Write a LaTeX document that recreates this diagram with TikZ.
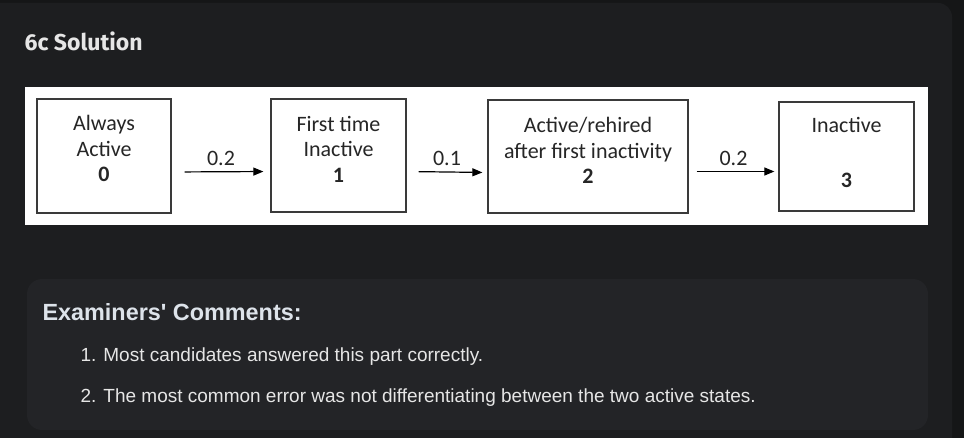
\documentclass[tikz,border=0pt]{standalone}
\usepackage{fontspec}
\setmainfont{Liberation Sans}
\newfontfamily\notefont{Liberation Sans}
\newfontfamily\boxfont{Carlito}
\newfontfamily\headfont{Fira Sans}
\usetikzlibrary{arrows.meta}
\definecolor{pagebg}{HTML}{151617}
\definecolor{cardbg}{HTML}{1D1E20}
\definecolor{notebg}{HTML}{232427}
\definecolor{lighttext}{HTML}{E6E6E6}
\definecolor{headtext}{HTML}{DDE3EA}
\definecolor{boxline}{HTML}{3A3A3A}
\tikzset{
  statebox/.style={draw=boxline,line width=1.3pt,fill=white,inner sep=0pt},
  boxtext/.style={align=center,text=black!85,font={\boxfont\fontsize{22}{25.5}\selectfont}},
  trans/.style={-{Triangle[length=10pt,width=8pt]},line width=1.2pt,black},
  translabel/.style={above=2pt,text=black!85,font={\boxfont\fontsize{22}{24}\selectfont}}
}
\begin{document}
\begin{tikzpicture}[x=1pt,y=-1pt]
    \useasboundingbox (0,0) rectangle (964,438);
    \fill[pagebg] (0,0) rectangle (964,438);
    \fill[cardbg,rounded corners=14pt] (-20,3) rectangle (952,460);
    \node[anchor=west,text=lighttext,font={\headfont\bfseries\fontsize{23}{27}\selectfont}] (title) at (21,41) {6c Solution};

    \fill[white] (25,87) rectangle (928,225);

    \node[statebox,minimum width=134pt,minimum height=114pt] (s0) at (104,156) {};
    \node[statebox,minimum width=135pt,minimum height=113pt] (s1) at (338.5,155.5) {};
    \node[statebox,minimum width=200pt,minimum height=113pt] (s2) at (588,156.5) {};
    \node[statebox,minimum width=135pt,minimum height=109pt] (s3) at (846.5,156.5) {};

    \node[boxtext] (t0) at (104,148.5) {Always\\Active\\\textbf{0}};
    \node[boxtext] (t1) at (338.5,149) {First time\\Inactive\\\textbf{1}};
    \node[boxtext] (t2) at (588,150.5) {Active/rehired\\after first inactivity\\\textbf{2}};
    \node[boxtext] (t3) at (846.5,152.5) {Inactive\\[29.5pt]\textbf{3}};

    \draw[trans,shorten <=13pt,shorten >=7pt] ([yshift=-16pt]s0.east) -- node[translabel] (p01) {0.2} ([yshift=-16pt]s1.west);
    \draw[trans,shorten <=12pt,shorten >=5pt] ([yshift=-16pt]s1.east) -- node[translabel] (p12) {0.1} ([yshift=-16pt]s2.west);
    \draw[trans,shorten <=8pt,shorten >=4pt] ([yshift=-15pt]s2.east) -- node[translabel] (p23) {0.2} ([yshift=-15pt]s3.west);

    \fill[notebg,rounded corners=15pt] (27,279) rectangle (928,430);
    \node[anchor=west,text=headtext,font={\notefont\bfseries\fontsize{23.4}{27}\selectfont}] (comments) at (39,312) {Examiners' Comments:};
    \node[anchor=west,text=lighttext,font={\notefont\fontsize{19}{22}\selectfont}] (item1) at (77,357) {1. Most candidates answered this part correctly.};
    \node[anchor=west,text=lighttext,font={\notefont\fontsize{19}{22}\selectfont}] (item2) at (77,398) {2. The most common error was not differentiating between the two active states.};
\end{tikzpicture}
\end{document}
